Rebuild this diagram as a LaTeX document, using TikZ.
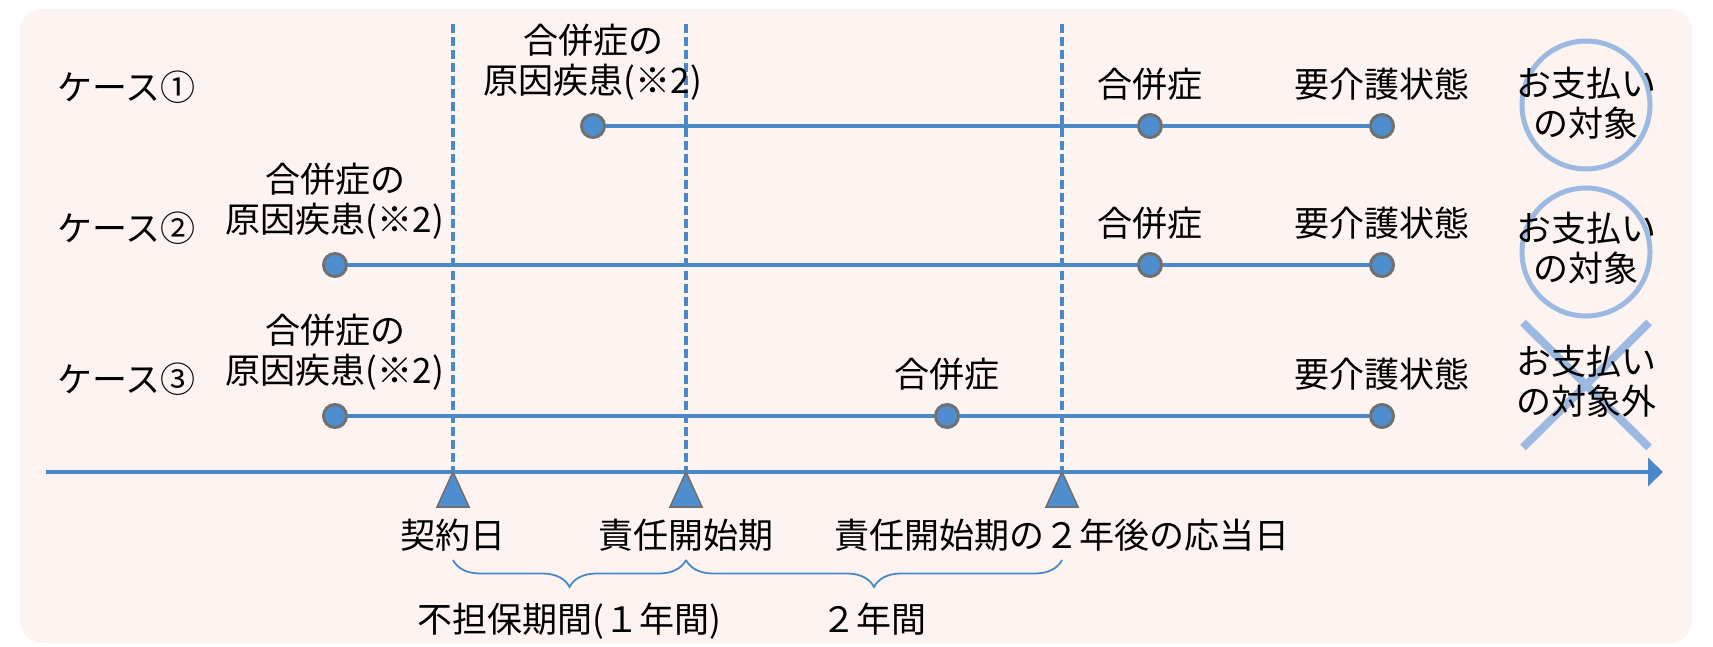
\documentclass[tikz,border=0pt]{standalone}
\usepackage{fontspec}
\setmainfont{Noto Sans CJK JP}
\usetikzlibrary{positioning}
\usetikzlibrary{arrows.meta}
\usetikzlibrary{shapes.misc}
\usetikzlibrary{decorations.pathreplacing}
\definecolor{panel pink}{RGB}{253,243,240}
\definecolor{line blue}{RGB}{74,137,201}
\definecolor{dot blue}{RGB}{78,142,206}
\definecolor{dot rim}{RGB}{112,112,112}
\definecolor{mark blue}{RGB}{155,185,225}
\tikzset{
    % A solid triangle head for the time axis
    >={Triangle[length=7.5pt, width=14pt]},
%
    % All the text in the chart is set the same way
    tag/.style={font=\fontsize{17.5}{20}\selectfont, inner sep=0pt, align=center},
%
    % An event on one of the case lines
    event dot/.style={
        circle, fill=dot blue, draw=dot rim, line width=1.5pt,
        minimum size=11.5pt, inner sep=0pt},
    case line/.style={draw=line blue, line width=2.3pt},
%
    % Time axis, its marks and the guides up from them
    time axis/.style={draw=line blue, line width=2.3pt},
    period mark/.style={fill=dot blue, draw=dot rim, line width=0.8pt},
    period guide/.style={draw=line blue, line width=1.9pt,
        dash pattern=on 4.5pt off 2pt},
    period brace/.style={draw=line blue, line width=0.9pt, decorate,
        decoration={brace, mirror, amplitude=13.5pt}},
%
    % Paid or not paid
    pay mark/.style={circle, draw=mark blue, line width=2.5pt,
        minimum size=64pt, inner sep=0pt},
    refuse mark/.style={cross out, draw=mark blue, line width=4pt,
        minimum width=59pt, minimum height=58.5pt, inner sep=0pt},
    panel fill/.style={fill=panel pink, rounded corners=11pt}}
\pgfdeclarelayer{background}
\pgfsetlayers{background,main}
\begin{document}
\begin{tikzpicture}[x=0.5pt, y=-0.5pt]
\useasboundingbox (0,0) rectangle (1713,647);

\node[tag, anchor=west] (case 1) at (57,87) {ケース①};
\node[tag, anchor=west] (case 2) at (57,228) {ケース②};
\node[tag, anchor=west] (case 3) at (57,379) {ケース③};

% case 1
\node[event dot] (c1 cause) at (593,126) {};
\node[event dot] (c1 comp) at (1150,126) {};
\node[event dot] (c1 care) at (1382,126) {};
\node[tag, above=6pt of c1 cause] (c1 cause text) {合併症の\\原因疾患(※2)};
\node[tag, above=6pt of c1 comp] (c1 comp text) {合併症};
\node[tag, above=6pt of c1 care] (c1 care text) {要介護状態};

% case 2
\node[event dot] (c2 cause) at (335,265) {};
\node[event dot] (c2 comp) at (1150,265) {};
\node[event dot] (c2 care) at (1382,265) {};
\node[tag, above=6pt of c2 cause] (c2 cause text) {合併症の\\原因疾患(※2)};
\node[tag, above=6pt of c2 comp] (c2 comp text) {合併症};
\node[tag, above=6pt of c2 care] (c2 care text) {要介護状態};

% case 3
\node[event dot] (c3 cause) at (335,416) {};
\node[event dot] (c3 comp) at (947,416) {};
\node[event dot] (c3 care) at (1382,416) {};
\node[tag, above=6pt of c3 cause] (c3 cause text) {合併症の\\原因疾患(※2)};
\node[tag, above=6pt of c3 comp] (c3 comp text) {合併症};
\node[tag, above=6pt of c3 care] (c3 care text) {要介護状態};

% payment verdicts
\node[pay mark] (pay 1) at (1586,105) {};
\node[tag] (pay 1 text) at (1586,103) {お支払い\\の対象};
\node[pay mark] (pay 2) at (1586,252) {};
\node[tag] (pay 2 text) at (1586,248) {お支払い\\の対象};
\node[refuse mark] (pay 3) at (1586,385) {};
\node[tag] (pay 3 text) at (1586,381) {お支払い\\の対象外};

% time axis
\coordinate (axis start) at (46,472);
\coordinate (axis end) at (1663,472);
\coordinate (contract) at (453,472);
\coordinate (start) at (686,472);
\coordinate (anniv) at (1062,472);

\foreach \m in {contract, start, anniv}
    \draw[period mark] (\m) -- ++(-16,35) -- ++(32,0) -- cycle;

\node[tag] (contract text) at (contract |- 0,535) {契約日};
\node[tag] (start text) at (start |- 0,535) {責任開始期};
\node[tag] (anniv text) at (anniv |- 0,535) {責任開始期の２年後の応当日};

\draw[period brace] (contract |- 0,560) -- (start |- 0,560)
    node[tag, midway, below=21pt] (exempt text) {不担保期間(１年間)};
\draw[period brace] (start |- 0,560) -- (anniv |- 0,560)
    node[tag, midway, below=21pt] (two years text) {２年間};

\begin{pgfonlayer}{background}
\fill[panel fill] (20,9) rectangle (1692,643);
\draw[case line] (c1 cause) -- (c1 comp) -- (c1 care);
\draw[case line] (c2 cause) -- (c2 comp) -- (c2 care);
\draw[case line] (c3 cause) -- (c3 comp) -- (c3 care);
\draw[period guide] (contract |- 0,24) -- (contract);
\draw[period guide] (start |- 0,24) -- (start);
\draw[period guide] (anniv |- 0,24) -- (anniv);
\draw[time axis, ->] (axis start) -- (axis end);
\end{pgfonlayer}

\end{tikzpicture}
\end{document}
